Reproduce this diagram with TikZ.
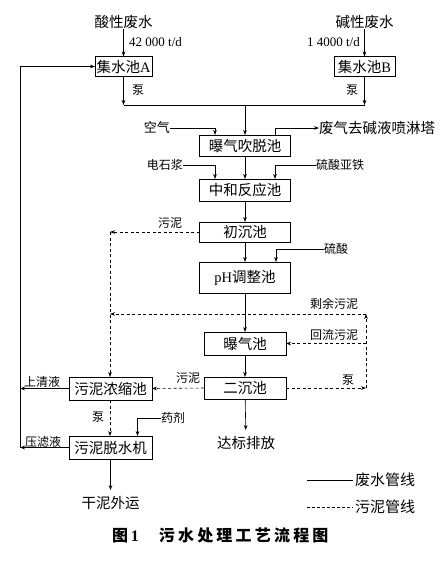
\documentclass[tikz,border=0pt]{standalone}
\usepackage{fontspec}
\setmainfont{Liberation Serif}
\newfontfamily\cjk{Noto Sans CJK SC}
\usetikzlibrary{arrows.meta}
\begin{document}
\begin{tikzpicture}[x=1pt,y=-1pt,
  box/.style={draw,line width=0.6pt,inner sep=0pt,outer sep=0pt,font=\fontsize{14.5}{14.5}\selectfont},
  big/.style={inner sep=0pt,font=\fontsize{14.5}{14.5}\selectfont\cjk},
  lbl/.style={inner sep=0pt,font=\fontsize{12}{12}\selectfont\cjk},
  ln/.style={line width=0.6pt},
  arr/.style={ln,-{Stealth[length=5pt,width=3.6pt]}},
  dsh/.style={ln,dash pattern=on 3pt off 2.5pt},
  darr/.style={dsh,-{Stealth[length=5pt,width=3.6pt]}}]
\useasboundingbox (0,0) rectangle (444,561);
\fill[white] (0,0) rectangle (444,561);

% sources
\node[big] (acid) at (123.5,22) {酸性废水};
\node[big] (alk) at (364.5,22) {碱性废水};
\node[inner sep=0pt,anchor=west,font=\fontsize{13}{13}\selectfont] (qa) at (129,42) {42 000 t/d};
\node[inner sep=0pt,anchor=east,font=\fontsize{13}{13}\selectfont] (qb) at (360,42) {1 4000 t/d};

% boxes
\node[box,minimum width=57pt,minimum height=20pt] (A) at (123.5,66.5) {{\cjk 集水池}A};
\node[box,minimum width=61pt,minimum height=20pt] (B) at (364.5,66.5) {{\cjk 集水池}B};
\node[box,minimum width=91pt,minimum height=21pt] (C1) at (245,145.5) {\cjk 曝气吹脱池};
\node[box,minimum width=91pt,minimum height=22pt] (C2) at (245,190) {\cjk 中和反应池};
\node[box,minimum width=91pt,minimum height=20pt] (C3) at (245,232) {\cjk 初沉池};
\node[box,minimum width=91pt,minimum height=31pt] (C4) at (245,277.5) {pH{\cjk 调整池}};
\node[box,minimum width=82pt,minimum height=23pt] (C5) at (245,343.5) {\cjk 曝气池};
\node[box,minimum width=82pt,minimum height=22pt] (C6) at (245,388) {\cjk 二沉池};
\node[box,minimum width=83pt,minimum height=23pt] (N) at (110.5,388.5) {\cjk 污泥浓缩池};
\node[box,minimum width=83pt,minimum height=23pt] (T) at (110.5,447.5) {\cjk 污泥脱水机};

% end labels
\node[big,inner ysep=6pt] (dis) at (246,443) {达标排放};
\node[big,inner ysep=6pt] (dry) at (110.5,503) {干泥外运};

% side labels
\node[lbl,font=\fontsize{13}{13}\selectfont\cjk,anchor=east] (air) at (170,128) {空气};
\node[big,anchor=west] (gas) at (319,128) {废气去碱液喷淋塔};
\node[lbl,anchor=east] (dsj) at (183,165) {电石浆};
\node[lbl,anchor=west] (lsy) at (316,165) {硫酸亚铁};
\node[lbl,anchor=west] (ls) at (324,249) {硫酸};
\node[lbl,anchor=west] (yj) at (161,418) {药剂};
\node[lbl] (p1) at (138,90) {泵};
\node[lbl] (p2) at (352,90) {泵};
\node[lbl] (wn1) at (170,223) {污泥};
\node[lbl] (syw) at (334,304) {剩余污泥};
\node[lbl] (hlw) at (334,335) {回流污泥};
\node[lbl] (p3) at (348,380) {泵};
\node[lbl] (wn2) at (188,378) {污泥};
\node[lbl] (sqy) at (42,382) {上清液};
\node[lbl] (lly) at (43,442) {压滤液};
\node[lbl] (p4) at (98,417) {泵};

% coordinates
\coordinate (j) at (245,105);
\coordinate (lx) at (20,0);
\coordinate (s1) at (110,232);
\coordinate (r) at (366,314);
\coordinate (s2) at (110,314);
\coordinate (p) at (366,388);

% waste water lines
\draw[arr] (acid) -- (A);
\draw[arr] (alk) -- (B);
\draw[arr] (A) -- (A |- j);
\draw[arr] (B) -- (B |- j);
\draw[ln] (A |- j) -- (B |- j);
\draw[arr] (j) -- (C1);
\draw[arr] (air.east) -| ([xshift=-30pt]C1.north);
\draw[arr] ([xshift=30pt]C1.north) |- (gas.west);
\draw[arr] (C1) -- (C2);
\draw[arr] (dsj.east) -| ([xshift=-30pt]C2.north);
\draw[arr] (lsy.west) -| ([xshift=30pt]C2.north);
\draw[arr] (C2) -- (C3);
\draw[arr] (C3) -- (C4);
\draw[arr] (ls.west) -| ([xshift=31pt]C4.north);
\draw[arr] (C4) -- (C5);
\draw[arr] (C5) -- (C6);
\draw[arr] (C6) -- (dis);
\draw[arr] (N.west) -- (N.west -| lx);
\draw[arr] (T.west) -- (T.west -| lx);
\draw[arr] (T.west -| lx) -- (lx |- A.west) -- (A.west);
\draw[arr] (yj.west) -| ([xshift=27pt]T.north);
\draw[arr] (T) -- (dry);

% sludge lines
\draw[darr] (C3.west) -- (s1);
\draw[darr] (s1) -- (s1 |- N.north);
\draw[darr] (r) -- (s2);
\draw[darr] (C6.east) -- (p);
\draw[darr] (p) -- (r);
\draw[darr] (p |- C5.east) -- (C5.east);
\draw[darr] (C6.west) -- (N.east);
\draw[darr] (N.south -| s1) -- (T.north -| s1);

% legend
\coordinate (g1) at (307,480);
\coordinate (g2) at (353,480);
\coordinate (g3) at (307,507);
\coordinate (g4) at (353,507);
\draw[ln] (g1) -- (g2);
\draw[ln,dash pattern=on 2.5pt off 2.5pt] (g3) -- (g4);
\node[inner sep=0pt,anchor=west,font=\fontsize{15}{15}\selectfont\cjk] (lg1) at (355,480) {废水管线};
\node[inner sep=0pt,anchor=west,font=\fontsize{15}{15}\selectfont\cjk] (lg2) at (355,507) {污泥管线};

% caption
\node[inner sep=0pt,anchor=west,font=\fontsize{16}{16}\selectfont\bfseries] (cap) at (112,535)
  {{\cjk 图}\,1\hspace{20pt}{\cjk\addfontfeatures{LetterSpace=20}污水处理工艺流程图}};
\end{tikzpicture}
\end{document}
